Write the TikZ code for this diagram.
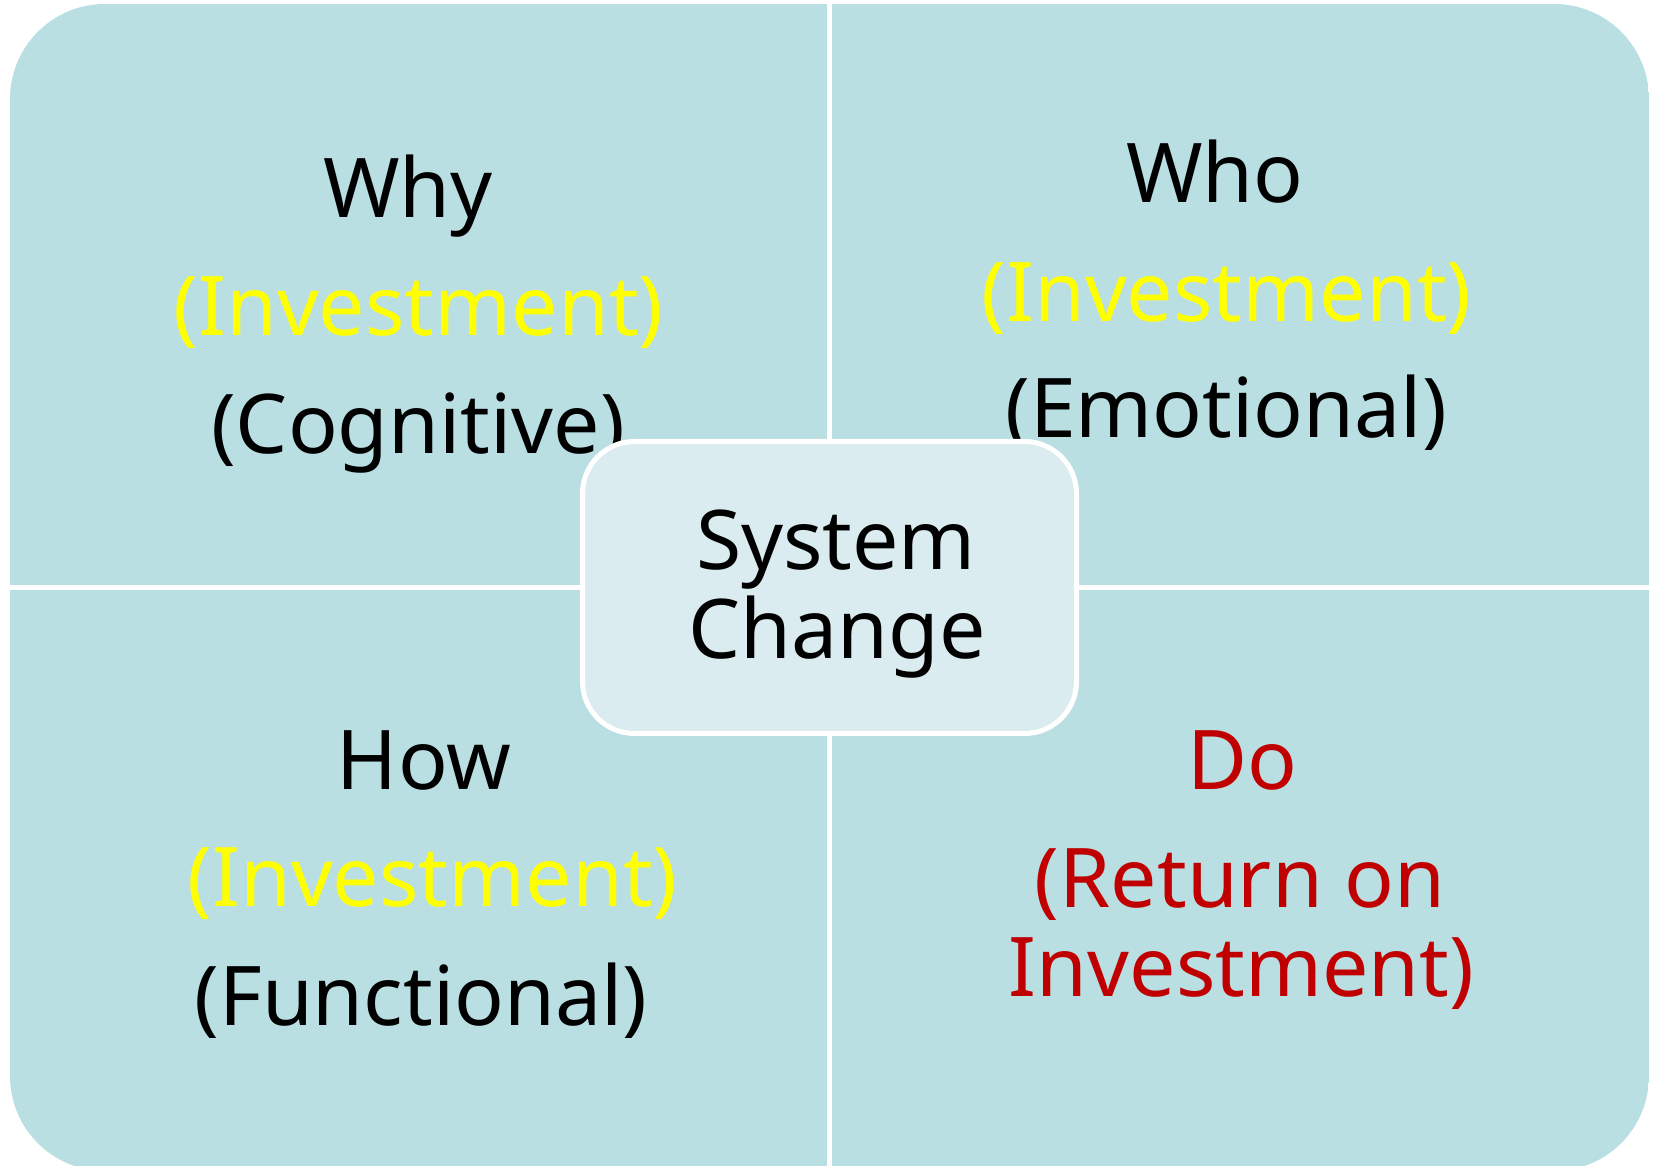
\documentclass[tikz,border=0pt]{standalone}
\usepackage{fontspec}
\setmainfont{Noto Sans}
\definecolor{quadfill}{RGB}{186,223,227}
\definecolor{hubfill}{RGB}{218,236,239}
\definecolor{investcol}{RGB}{255,255,0}
\definecolor{returncol}{RGB}{192,0,0}
\begin{document}
\begin{tikzpicture}[x=1pt,y=1pt,
  quad/.style={fill=quadfill},
  lbl/.style={anchor=base, inner sep=0pt, text=black,
    font=\fontsize{82.4}{89}\selectfont},
  inv/.style={lbl, text=investcol},
  roi/.style={lbl, text=returncol},
  hubbox/.style={draw=white, line width=5pt, fill=hubfill,
    rounded corners=52pt, inner sep=0pt,
    minimum width=494pt, minimum height=292pt}]
\useasboundingbox (0,0) rectangle (1653,1166);

% four quadrants, outer corners rounded by the common clip
\begin{scope}
  \clip[rounded corners=95pt] (10,-5) rectangle (1649,1162);
  \fill[quad] (10,581)  rectangle (827,1162);
  \fill[quad] (832,581) rectangle (1649,1162);
  \fill[quad] (10,-5)   rectangle (827,576);
  \fill[quad] (832,-5)  rectangle (1649,576);
\end{scope}

% top left
\node[lbl] (why)    at (408,948)   {Why};
\node[inv] (whyinv) at (418.5,830) {(Investment)};
\node[lbl] (whycog) at (418,712)   {(Cognitive)};

% top right
\node[lbl] (who)    at (1215,963)   {Who};
\node[inv] (whoinv) at (1226.5,844) {(Investment)};
\node[lbl] (whoemo) at (1226,728)   {(Emotional)};

% bottom left
\node[lbl] (how)    at (424,376)   {How};
\node[inv] (howinv) at (432.5,259) {(Investment)};
\node[lbl] (howfun) at (421,140)   {(Functional)};

% bottom right
\node[roi] (do)     at (1242,376)   {Do};
\node[roi] (doret)  at (1240,258)   {(Return on};
\node[roi] (doinv)  at (1241.5,169) {Investment)};

% central box
\node[hubbox] (hub) at (829.5,578.5) {};
\node[lbl] (sys) at (836,596) {System};
\node[lbl] (chg) at (837,507) {Change};
\end{tikzpicture}
\end{document}
